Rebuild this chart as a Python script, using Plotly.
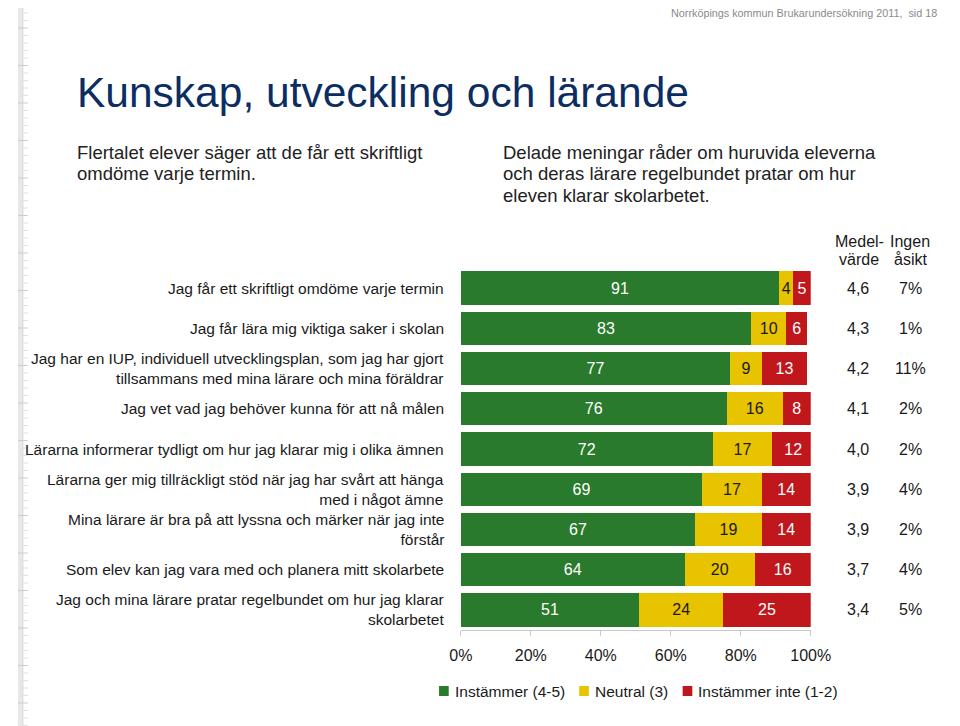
import plotly.graph_objects as go

categories = [
    "Jag får ett skriftligt omdöme varje termin",
    "Jag får lära mig viktiga saker i skolan",
    "Jag har en IUP, individuell utvecklingsplan, som jag har gjort<br>tillsammans med mina lärare och mina föräldrar",
    "Jag vet vad jag behöver kunna för att nå målen",
    "Lärarna informerar tydligt om hur jag klarar mig i olika ämnen",
    "Lärarna ger mig tillräckligt stöd när jag har svårt att hänga<br>med i något ämne",
    "Mina lärare är bra på att lyssna och märker när jag inte<br>förstår",
    "Som elev kan jag vara med och planera mitt skolarbete",
    "Jag och mina lärare pratar regelbundet om hur jag klarar<br>skolarbetet",
]
instammer = [91, 83, 77, 76, 72, 69, 67, 64, 51]
neutral = [4, 10, 9, 16, 17, 17, 19, 20, 24]
instammer_inte = [5, 6, 13, 8, 12, 14, 14, 16, 25]
medelvarde = ["4,6", "4,3", "4,2", "4,1", "4,0", "3,9", "3,9", "3,7", "3,4"]
ingen_asikt = ["7%", "1%", "11%", "2%", "2%", "4%", "2%", "4%", "5%"]
series_names = ["Instämmer (4-5)", "Neutral (3)", "Instämmer inte (1-2)"]
tick_vals = [0, 20, 40, 60, 80, 100]
tick_text = ["0%", "20%", "40%", "60%", "80%", "100%"]

W, H = 960, 726
OFF = 8  # page offset of the figure (body margin)
FONT = "Liberation Sans, Arial, sans-serif"
GREEN = "#2A7A2E"
YELLOW = "#E8C300"
RED = "#C0171C"
TXT = "#1a1a1a"

def px_x(x):
    return (x - OFF) / W

def px_y(y):
    return 1 - (y - OFF) / H

ids = list(range(len(categories)))

fig = go.Figure()
series = [
    (series_names[0], instammer, GREEN, "white"),
    (series_names[1], neutral, YELLOW, TXT),
    (series_names[2], instammer_inte, RED, "white"),
]
for name, vals, col, tcol in series:
    fig.add_trace(go.Bar(
        y=ids, x=vals, name=name, orientation="h",
        marker=dict(color=col, line=dict(width=0)),
        text=[str(v) for v in vals], textposition="inside",
        insidetextanchor="middle",
        textfont=dict(color=tcol, size=16, family=FONT),
        hoverinfo="skip", showlegend=False,
    ))

fig.update_layout(
    width=W, height=H, autosize=False,
    margin=dict(l=0, r=0, t=0, b=0),
    paper_bgcolor="white", plot_bgcolor="white",
    barmode="stack", bargap=0.17,
    font=dict(family=FONT, color=TXT),
    uniformtext=dict(minsize=16, mode="show"),
    xaxis=dict(domain=[px_x(464), px_x(826)], range=[0, 100], tickvals=tick_vals, ticktext=tick_text,
               showgrid=False, zeroline=False, showline=True, linecolor="#c8c8c8", linewidth=1,
               ticks="outside", ticklen=5, tickcolor="#c8c8c8",
               tickfont=dict(size=16, family=FONT, color=TXT), ticklabelstandoff=6),
    yaxis=dict(domain=[px_y(630), px_y(268)], range=[8.5, -0.5], showticklabels=False,
               showgrid=False, zeroline=False, showline=False, ticks=""),
)

ann = []
for i, c in enumerate(categories):
    ann.append(dict(x=px_x(449), y=i, xref="paper", yref="y", text=c, showarrow=False,
                    xanchor="right", yanchor="middle", align="right",
                    font=dict(size=15.5, family=FONT, color=TXT)))
    ann.append(dict(x=px_x(875), y=i, xref="paper", yref="y", text=medelvarde[i], showarrow=False,
                    xanchor="center", yanchor="middle", font=dict(size=16, family=FONT, color=TXT)))
    ann.append(dict(x=px_x(929), y=i, xref="paper", yref="y", text=ingen_asikt[i], showarrow=False,
                    xanchor="center", yanchor="middle", font=dict(size=16, family=FONT, color=TXT)))

def text_line(x, y, s, size, color, anchor="left"):
    return dict(x=px_x(x), y=px_y(y), xref="paper", yref="paper", text=s, showarrow=False,
                xanchor=anchor, yanchor="middle", font=dict(size=size, family=FONT, color=color))

ann += [
    text_line(876, 241, "Medel-", 16, TXT, "center"),
    text_line(876, 260, "värde", 16, TXT, "center"),
    text_line(929, 241, "Ingen", 16, TXT, "center"),
    text_line(929, 260, "åsikt", 16, TXT, "center"),
    text_line(959, 13, "Norrköpings kommun Brukarundersökning 2011,  sid 18", 10.8, "#8a8a8a", "right"),
    text_line(65, 92, "Kunskap, utveckling och lärande", 42.5, "#0B2D62"),
    text_line(65, 152, "Flertalet elever säger att de får ett skriftligt", 18.5, "#222222"),
    text_line(65, 173, "omdöme varje termin.", 18.5, "#222222"),
    text_line(506, 152, "Delade meningar råder om huruvida eleverna", 18.5, "#222222"),
    text_line(506, 173, "och deras lärare regelbundet pratar om hur", 18.5, "#222222"),
    text_line(506, 195, "eleven klarar skolarbetet.", 18.5, "#222222"),
]

# custom legend
legend_x = [446.5, 591.5, 698.5]
legend_cols = [GREEN, YELLOW, RED]
shapes = []
for lx, col, nm in zip(legend_x, legend_cols, series_names):
    shapes.append(dict(type="rect", xref="paper", yref="paper",
                       x0=px_x(lx - 5), x1=px_x(lx + 5), y0=px_y(696), y1=px_y(686),
                       fillcolor=col, line=dict(width=0)))
    ann.append(text_line(lx + 9, 691, nm, 15.5, TXT))
fig.update_layout(annotations=ann)

# left ruler decoration
shapes += [
    dict(type="rect", xref="paper", yref="paper", x0=px_x(6), x1=px_x(11), y0=0, y1=1,
         fillcolor="#e8e8e8", line=dict(width=0), layer="below"),
    dict(type="line", xref="paper", yref="paper", x0=px_x(11), x1=px_x(11), y0=0, y1=1,
         line=dict(color="#d8d8d8", width=1)),
]
y = 28 - 37.5
k = 0
while y < H + OFF:
    major = (k % 5 == 0)
    if y > OFF:
        shapes.append(dict(type="line", xref="paper", yref="paper",
                           x0=px_x(6 if major else 11), x1=px_x(16), y0=px_y(y), y1=px_y(y),
                           line=dict(color="#cccccc" if major else "#e0e0e0", width=1)))
    y += 7.5
    k += 1
fig.update_layout(shapes=shapes)

fig.write_html("out.html")
